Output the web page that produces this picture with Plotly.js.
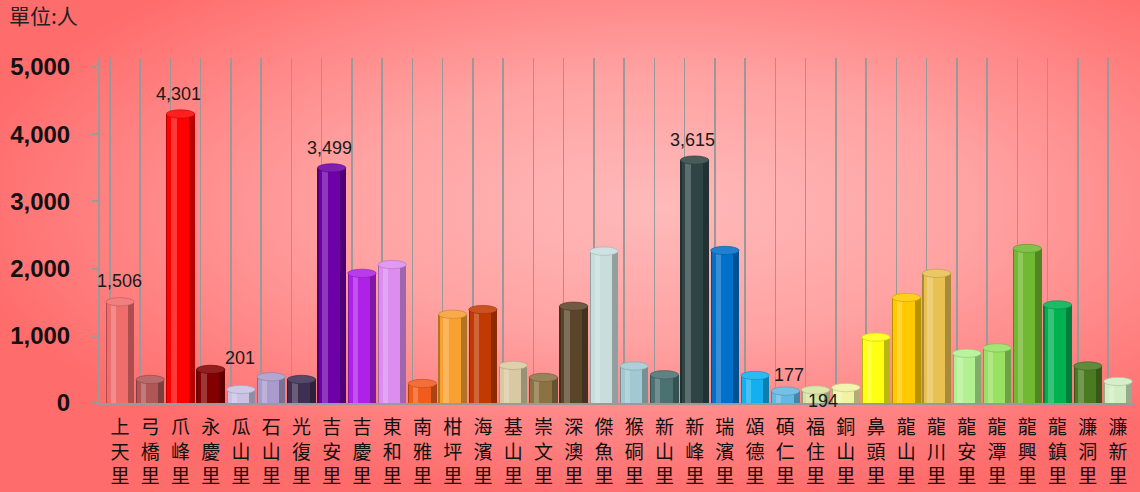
<!DOCTYPE html>
<html>
<head>
<meta charset="utf-8">
<script src="https://cdn.plot.ly/plotly-3.0.1.min.js"></script>
<style>
  html, body { margin: 0; padding: 0; }
  body {
    width: 1140px; height: 492px; overflow: hidden;
    background: radial-gradient(ellipse 62% 60% at 58% 42%, #ffbaba 0%, #ffa2a2 45%, #ff7b7b 85%, #ff6c6c 100%);
  }
  #chart { width: 1140px; height: 492px; }
</style>
</head>
<body>
<div id="chart"></div>
<script>
// ---- data ----
const categories = ['上天里','弓橋里','爪峰里','永慶里','瓜山里','石山里','光復里','吉安里','吉慶里','東和里',
  '南雅里','柑坪里','海濱里','基山里','崇文里','深澳里','傑魚里','猴硐里','新山里','新峰里',
  '瑞濱里','頌德里','碩仁里','福住里','銅山里','鼻頭里','龍山里','龍川里','龍安里','龍潭里',
  '龍興里','龍鎮里','濂洞里','濂新里'];
const values = [1506, 350, 4301, 500, 201, 390, 350, 3499, 1930, 2060,
  290, 1320, 1390, 560, 380, 1440, 2260, 550, 420, 3615,
  2270, 410, 177, 194, 230, 980, 1570, 1930, 740, 820,
  2300, 1460, 550, 320];
const barColors = ['#ef6d6d','#b05656','#ff0000','#820000','#cac2e2','#a99bcb','#3d3052','#6e00a8','#b021e8','#dd8cf0',
  '#f05c1c','#f8a032','#c23a02','#d9c9a2','#8c7242','#5b452a','#c9dddd','#a2c9d1','#4b7171','#2f4545',
  '#0070c9','#12b0f0','#62b9e1','#d9e1a2','#f1f2a2','#ffff12','#ffc900','#e8c152','#b1f192','#99e162',
  '#71b931','#00b152','#4b7b21','#d1edc1'];
const valueLabels = ['1,506', null, '4,301', null, '201', null, null, '3,499', null, null,
  null, null, null, null, null, null, null, null, null, '3,615',
  null, null, '177', '194', null, null, null, null, null, null,
  null, null, null, null];
const unitTitle = '單位:人';
const yTicks = [0, 1000, 2000, 3000, 4000, 5000];

// ---- helpers (styling only) ----
function hexToRgb(h){ h=h.replace('#',''); return [parseInt(h.substr(0,2),16),parseInt(h.substr(2,2),16),parseInt(h.substr(4,2),16)]; }
function rgbStr(c){ return 'rgb('+c.map(v=>Math.max(0,Math.min(255,Math.round(v)))).join(',')+')'; }
function darken(h,f){ return rgbStr(hexToRgb(h).map(v=>v*f)); }
function lighten(h,f){ return rgbStr(hexToRgb(h).map(v=>v+(255-v)*f)); }

const idx = categories.map((_,i)=>i);
const xRange = [-0.66, 33.56];

const traces = [
  { type:'bar', x: idx, y: values, width: 0.94, offset: -0.47,
    marker:{ color: barColors.map(c=>darken(c,0.72)), line:{width:0} }, hoverinfo:'skip', showlegend:false },
  { type:'bar', x: idx, y: values, width: 0.7, offset: -0.43,
    marker:{ color: barColors, line:{width:0} }, hoverinfo:'skip', showlegend:false },
  { type:'bar', x: idx, y: values, width: 0.18, offset: -0.31,
    marker:{ color: barColors.map(c=>lighten(c,0.22)), line:{width:0} }, hoverinfo:'skip', showlegend:false },
  { type:'scatter', x:[0], y:[0], xaxis:'x2', mode:'markers', marker:{opacity:0}, hoverinfo:'skip', showlegend:false }
];

const ellH = 62; // half-height of top ellipse in data units
const shapes = values.map((v,i)=>({
  type:'circle', xref:'x', yref:'y',
  x0: i-0.47, x1: i+0.47, y0: v-ellH, y1: v+ellH,
  fillcolor: lighten(barColors[i],0.12), line:{color: darken(barColors[i],0.8), width:0.6}, layer:'above'
}));

const labelShift = {0:[0,21], 2:[-2,20], 4:[-1,31], 7:[-2,20], 19:[-2,20], 22:[4,16], 23:[7,-11]};
const annotations = [];
valueLabels.forEach((t,i)=>{
  if(!t) return;
  const s = labelShift[i] || [0,20];
  annotations.push({ x:i, y:values[i], xref:'x', yref:'y', text:t, showarrow:false,
    xshift:s[0], yshift:s[1], xanchor:'center', yanchor:'middle', borderpad:0,
    font:{family:'Liberation Sans, Arial', size:18, color:'#1a1a1a'} });
});

const layout = {
  width:1140, height:492,
  margin:{l:100, r:5, t:58, b:89},
  paper_bgcolor:'rgba(0,0,0,0)', plot_bgcolor:'rgba(0,0,0,0)',
  barmode:'overlay', bargap:0,
  title:{ text: unitTitle, xref:'container', yref:'container', x: 9/1140, xanchor:'left', y: 1-17/492, yanchor:'middle',
    font:{family:'Noto Sans CJK TC', size:21, color:'#222'} },
  xaxis:{ range:xRange, tickmode:'array', tickvals: idx,
    ticktext: categories.map(c=>c.split('').join('<br>')),
    showgrid:false, zeroline:false, showline:true, linecolor:'#9a9a9a', linewidth:2,
    ticks:'', ticklabelstandoff: 6,
    tickfont:{family:'Noto Sans CJK TC', size:19, color:'#111'} },
  xaxis2:{ overlaying:'x', range:xRange, tickmode:'linear', tick0:-0.33, dtick:1,
    showgrid:true, gridcolor:'#999999', gridwidth:1.5, showticklabels:false, ticks:'', zeroline:false, showline:false },
  yaxis:{ range:[0, 5134], tickmode:'array', tickvals:yTicks, ticktext: yTicks.map(v=>v.toLocaleString('en-US')),
    showgrid:false, zeroline:false, showline:true, linecolor:'#9a9a9a', linewidth:2,
    ticks:'outside', ticklen:6, tickcolor:'#9a9a9a', tickwidth:2, ticklabelstandoff: 17,
    tickfont:{family:'Liberation Sans, Arial', size:24, weight:'bold', color:'#111'} },
  shapes: shapes,
  annotations: annotations
};

Plotly.newPlot('chart', traces, layout, {displayModeBar:false, staticPlot:true});
</script>
</body>
</html>
